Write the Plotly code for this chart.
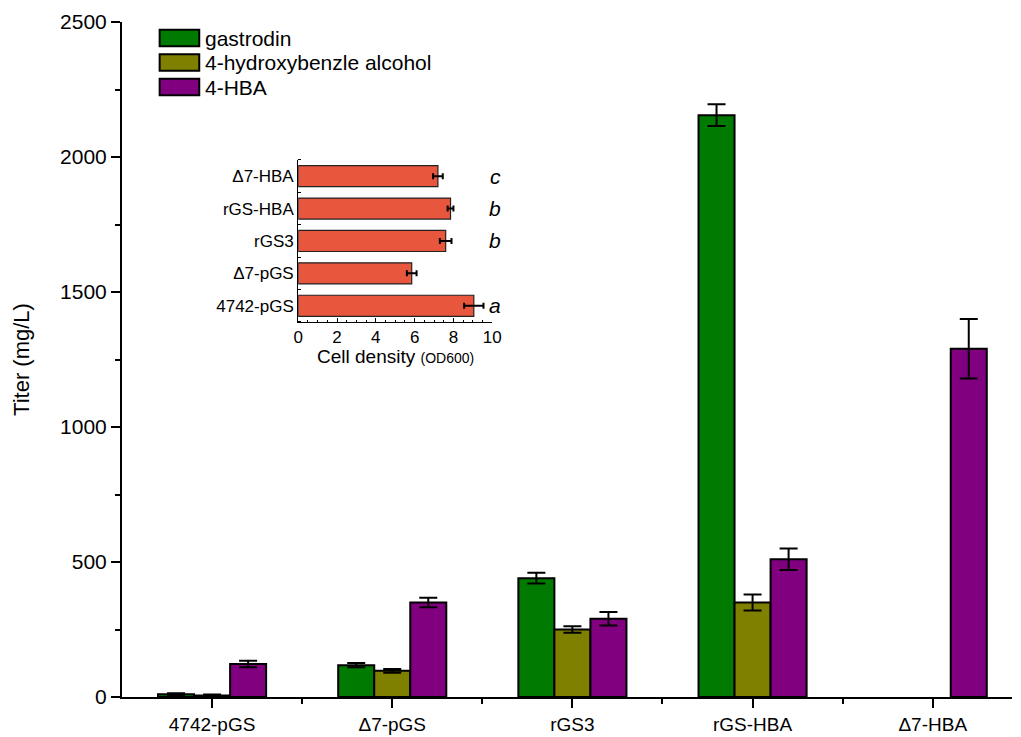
import plotly.graph_objects as go

# ---- main chart data ----
strains = ["4742-pGS", "Δ7-pGS", "rGS3", "rGS-HBA", "Δ7-HBA"]
series_names = ["gastrodin", "4-hydroxybenzle alcohol", "4-HBA"]
series_colors = ["#007A00", "#808000", "#800080"]
gastrodin = [10, 118, 440, 2155, None]
gastrodin_err = [4, 8, 20, 40, None]
hba_alcohol = [6, 97, 250, 350, None]
hba_alcohol_err = [3, 7, 12, 30, None]
hba = [122, 350, 290, 510, 1290]
hba_err = [12, 18, 25, 40, 110]

# ---- inset data (cell density) ----
inset_strains = ["4742-pGS", "Δ7-pGS", "rGS3", "rGS-HBA", "Δ7-HBA"]
od600 = [9.05, 5.85, 7.6, 7.85, 7.2]
od600_err = [0.5, 0.25, 0.3, 0.15, 0.25]
sig_letters = ["a", "", "b", "b", "c"]

FONT = "Liberation Sans, Arial, sans-serif"

fig = go.Figure()
xpos = list(range(len(strains)))
for name, color, vals, errs in zip(series_names, series_colors,
                                   [gastrodin, hba_alcohol, hba],
                                   [gastrodin_err, hba_alcohol_err, hba_err]):
    fig.add_trace(go.Bar(
        x=xpos, y=vals, name=name, showlegend=False,
        marker=dict(color=color, line=dict(color="black", width=2)),
        error_y=dict(type="data", array=errs, color="black", thickness=2, width=9),
        xaxis="x", yaxis="y",
    ))

ipos = list(range(len(inset_strains)))
fig.add_trace(go.Bar(
    y=ipos, x=od600, orientation="h", width=0.65, showlegend=False,
    marker=dict(color="#E8563E", line=dict(color="#222222", width=1.2)),
    error_x=dict(type="data", array=od600_err, color="black", thickness=2, width=3),
    xaxis="x2", yaxis="y2",
))

for p, letter in zip(ipos, sig_letters):
    if letter:
        fig.add_annotation(x=1.0, y=p, xref="x2 domain", yref="y2", text=f"<i>{letter}</i>",
                           showarrow=False, xanchor="center", xshift=3,
                           font=dict(family=FONT, size=21, color="black"))

# inset x-axis title
fig.add_annotation(x=0.5, y=-0.215, xref="x2 domain", yref="y2 domain",
                   text="Cell density <span style='font-size:14px'>(OD600)</span>",
                   showarrow=False, xanchor="center", yanchor="middle",
                   font=dict(family=FONT, size=19, color="black"))

# legend drawn as swatches + text (paper coordinates)
leg_x0, leg_x1 = 0.0423, 0.0868
leg_top = 0.9885
leg_step = 0.0363
sw_h = 0.0245
for i, (name, color) in enumerate(zip(series_names, series_colors)):
    yc = leg_top - i * leg_step - sw_h / 2
    fig.add_shape(type="rect", xref="paper", yref="paper",
                  x0=leg_x0, x1=leg_x1, y0=yc - sw_h / 2, y1=yc + sw_h / 2,
                  fillcolor=color, line=dict(color="black", width=2))
    fig.add_annotation(x=leg_x1 + 0.004, y=yc, xref="paper", yref="paper",
                       text=name, showarrow=False, xanchor="left", yanchor="middle",
                       font=dict(family=FONT, size=21, color="black"))

fig.update_layout(
    width=1021, height=737,
    margin=dict(l=122, r=0, t=22, b=40),
    plot_bgcolor="white", paper_bgcolor="white",
    barmode="group", bargap=0.4, bargroupgap=0,
    font=dict(family=FONT, color="black"),
    showlegend=False,
    xaxis=dict(
        range=[-0.5, 4.44], tickvals=xpos, ticktext=strains,
        showline=True, linecolor="black", linewidth=2,
        ticks="outside", ticklen=9, tickwidth=2, tickcolor="black",
        minor=dict(tickvals=[0.5, 1.5, 2.5, 3.5], ticklen=5, tickwidth=2,
                   ticks="outside", tickcolor="black"),
        tickfont=dict(size=19, family=FONT), showgrid=False, zeroline=False,
    ),
    yaxis=dict(
        range=[0, 2500], tickvals=[0, 500, 1000, 1500, 2000, 2500],
        showline=True, linecolor="black", linewidth=2,
        ticks="outside", ticklen=9, tickwidth=2, tickcolor="black",
        minor=dict(tickvals=[250, 750, 1250, 1750, 2250], ticklen=5, tickwidth=2,
                   ticks="outside", tickcolor="black"),
        tickfont=dict(size=21, family=FONT), showgrid=False, zeroline=False,
        title=dict(text="Titer (mg/L)", font=dict(size=22, family=FONT), standoff=24),
    ),
    xaxis2=dict(
        domain=[0.198, 0.416], anchor="y2", range=[0, 10],
        tickvals=[0, 2, 4, 6, 8, 10],
        showline=True, linecolor="black", linewidth=1.2, mirror=False,
        ticks="inside", ticklen=4, tickwidth=1.2, tickcolor="black",
        minor=dict(dtick=0.5, tick0=0, ticklen=2, tickwidth=1, ticks="inside",
                   tickcolor="black"),
        tickfont=dict(size=17, family=FONT), showgrid=False, zeroline=False,
    ),
    yaxis2=dict(
        domain=[0.5556, 0.7956], anchor="x2", range=[-0.5, 4.5],
        tickvals=ipos, ticktext=inset_strains,
        showline=True, linecolor="black", linewidth=1.2,
        ticks="", tickfont=dict(size=17, family=FONT),
        minor=dict(tickvals=[-0.5, 0.5, 1.5, 2.5, 3.5, 4.5], ticklen=3, tickwidth=1.2,
                   ticks="inside", tickcolor="black"),
        showgrid=False, zeroline=False,
    ),
)

fig.write_html("out.html")
